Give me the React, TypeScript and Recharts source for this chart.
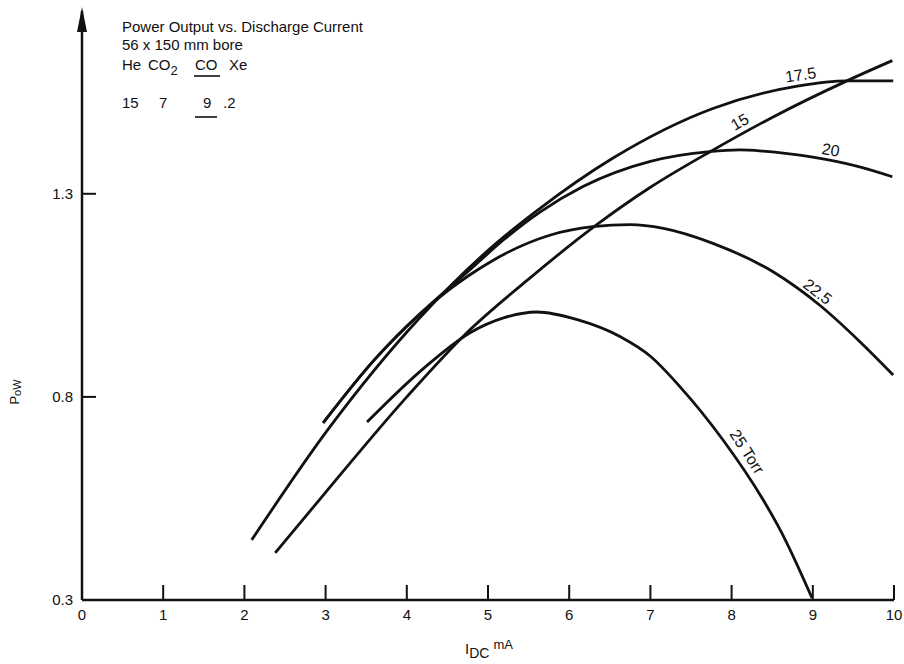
import React from "react";
import { LineChart, Line, XAxis, YAxis, ReferenceDot } from "recharts";

// ---- axes ----
const xTicks = [0, 1, 2, 3, 4, 5, 6, 7, 8, 9, 10];
const yTicks = [0.3, 0.8, 1.3];

// ---- series (pressure in Torr) : I_DC (mA) vs P_o (W) ----
const p15X = [2.38, 3.0, 4.0, 4.74, 5.5, 6.34, 7.0, 7.73, 8.5, 9.42, 9.98];
const p15Y = [0.416, 0.565, 0.8, 0.958, 1.09, 1.224, 1.316, 1.403, 1.488, 1.578, 1.628];

const p175X = [2.09, 3.03, 4.16, 4.53, 5.1, 5.6, 6.54, 7.77, 8.81, 9.42, 9.99];
const p175Y = [0.448, 0.72, 0.995, 1.072, 1.178, 1.258, 1.388, 1.51, 1.565, 1.578, 1.578];

const p20X = [2.97, 3.6, 4.16, 4.53, 4.75, 5.2, 5.64, 6.17, 7.0, 7.73, 8.1, 8.39, 9.0, 9.54, 9.98];
const p20Y = [0.736, 0.891, 1.004, 1.07, 1.108, 1.188, 1.255, 1.318, 1.38, 1.404, 1.408, 1.405, 1.39, 1.368, 1.342];

const p225X = [2.97, 3.6, 4.16, 4.53, 4.75, 5.06, 5.76, 6.29, 6.75, 7.16, 7.77, 8.51, 9.09, 9.58, 9.99];
const p225Y = [0.736, 0.891, 1.004, 1.065, 1.097, 1.136, 1.198, 1.219, 1.224, 1.215, 1.178, 1.108, 1.025, 0.936, 0.854];

const p25X = [3.51, 4.2, 4.78, 5.2, 5.6, 6.1, 6.63, 7.0, 7.36, 7.89, 8.39, 8.6, 8.99];
const p25Y = [0.738, 0.869, 0.958, 0.995, 1.009, 0.99, 0.948, 0.9, 0.826, 0.695, 0.546, 0.472, 0.305];

// ---- curve labels ----
const labelText = ["17.5", "15", "20", "22.5", "25 Torr"];
const labelX = [8.85, 8.1, 9.22, 9.06, 8.19];
const labelY = [1.593, 1.477, 1.408, 1.059, 0.665];
const labelAngle = [-8, -30, 10, 38, 57];

const zip = (xs: number[], ys: number[]) => xs.map((x, i) => ({ x, y: ys[i] }));

const series = [
  { name: "15", data: zip(p15X, p15Y) },
  { name: "17.5", data: zip(p175X, p175Y) },
  { name: "20", data: zip(p20X, p20Y) },
  { name: "22.5", data: zip(p225X, p225Y) },
  { name: "25", data: zip(p25X, p25Y) },
];

const FONT = "'Liberation Sans', Arial, sans-serif";
const INK = "#111";

const XTick = (props: any) => {
  const { x, y, payload } = props;
  return (
    <g>
      {payload.value !== 0 && (
        <line x1={x} x2={x} y1={y} y2={y - 15} stroke={INK} strokeWidth={2} />
      )}
      <text x={x} y={y + 20} textAnchor="middle" fontSize={15} fontFamily={FONT} fill={INK}>
        {payload.value}
      </text>
    </g>
  );
};

const YTick = (props: any) => {
  const { x, y, payload } = props;
  return (
    <g>
      {payload.value !== 0.3 && (
        <line x1={x} x2={x + 14} y1={y} y2={y} stroke={INK} strokeWidth={2} />
      )}
      <text x={x - 9} y={y + 5} textAnchor="end" fontSize={15} fontFamily={FONT} fill={INK}>
        {payload.value.toFixed(1)}
      </text>
    </g>
  );
};

const XLabel = () => (
  <text x={465} y={654} fontSize={15} fontFamily={FONT} fill={INK}>
    I
    <tspan fontSize={14} dy={4}>DC</tspan>
    <tspan fontSize={13} dx={4} dy={-9}>mA</tspan>
  </text>
);

const YLabel = () => (
  <text x={0} y={0} transform="translate(19 392) rotate(-90)" textAnchor="middle" fontSize={13} fontFamily={FONT} fill={INK}>
    P<tspan fontSize={11} dy={2}>oW</tspan>
  </text>
);

const Arrow = (props: any) => {
  const { cx, cy } = props;
  return <polygon points={`${cx},${cy - 4} ${cx - 5},${cy + 21} ${cx + 5},${cy + 21}`} fill={INK} />;
};

const Title = (props: any) => {
  const { cx, cy } = props;
  const x0 = cx + 40;
  return (
    <g fontFamily={FONT} fontSize={15} fill={INK}>
      <text x={x0} y={cy + 21}>Power Output vs. Discharge Current</text>
      <text x={x0} y={cy + 39}>56 x 150 mm bore</text>
      <text x={x0} y={cy + 59}>He</text>
      <text x={x0 + 26} y={cy + 59}>
        CO<tspan fontSize={13} dy={5}>2</tspan>
      </text>
      <text x={x0 + 73} y={cy + 59}>CO</text>
      <line x1={x0 + 72} x2={x0 + 98} y1={cy + 65} y2={cy + 65} stroke={INK} strokeWidth={1.6} />
      <text x={x0 + 107} y={cy + 59}>Xe</text>
      <text x={x0} y={cy + 97}>15</text>
      <text x={x0 + 37} y={cy + 97}>7</text>
      <text x={x0 + 81} y={cy + 97}>9</text>
      <line x1={x0 + 73} x2={x0 + 95} y1={cy + 106} y2={cy + 106} stroke={INK} strokeWidth={1.6} />
      <text x={x0 + 101} y={cy + 97}>.2</text>
    </g>
  );
};

const makeLabel = (text: string, angle: number) => (props: any) => {
  const { cx, cy } = props;
  return (
    <text
      x={cx}
      y={cy}
      transform={`rotate(${angle} ${cx} ${cy})`}
      textAnchor="middle"
      dominantBaseline="central"
      fontSize={16}
      fontFamily={FONT}
      fill={INK}
    >
      {text}
    </text>
  );
};

export default function App() {
  return (
    <div style={{ position: "fixed", left: 0, top: 0, width: 904, height: 664, background: "#fff" }}>
      <LineChart width={904} height={664} margin={{ top: 11, right: 10, left: 0, bottom: 34 }}>
        <XAxis
          type="number"
          dataKey="x"
          domain={[0, 10]}
          ticks={xTicks}
          interval={0}
          allowDataOverflow
          height={30}
          tickSize={0}
          tickMargin={0}
          tickLine={false}
          axisLine={{ stroke: INK, strokeWidth: 2.5 }}
          tick={(p: any) => <XTick {...p} />}
          label={() => <XLabel />}
        />
        <YAxis
          type="number"
          dataKey="y"
          domain={[0.3, 1.75]}
          ticks={yTicks}
          interval={0}
          allowDataOverflow
          width={82}
          tickSize={0}
          tickMargin={0}
          tickLine={false}
          axisLine={{ stroke: INK, strokeWidth: 2.5 }}
          tick={(p: any) => <YTick {...p} />}
          label={() => <YLabel />}
        />
        {series.map((s) => (
          <Line
            key={s.name}
            data={s.data}
            dataKey="y"
            type="monotone"
            stroke={INK}
            strokeWidth={2.8}
            dot={false}
            activeDot={false}
            isAnimationActive={false}
          />
        ))}
        <ReferenceDot x={0} y={1.75} r={0} ifOverflow="visible" shape={(p: any) => <Arrow {...p} />} />
        <ReferenceDot x={0} y={1.75} r={0} ifOverflow="visible" shape={(p: any) => <Title {...p} />} />
        {labelText.map((t, i) => (
          <ReferenceDot
            key={t}
            x={labelX[i]}
            y={labelY[i]}
            r={0}
            ifOverflow="visible"
            shape={makeLabel(t, labelAngle[i])}
          />
        ))}
      </LineChart>
    </div>
  );
}
